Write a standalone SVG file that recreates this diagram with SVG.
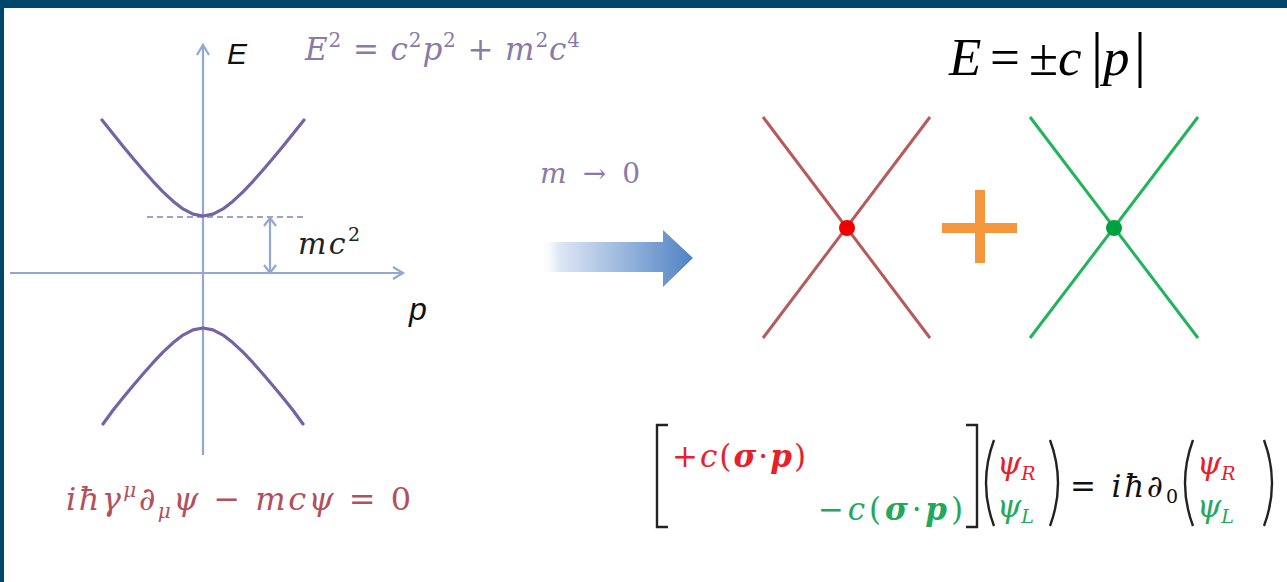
<svg xmlns="http://www.w3.org/2000/svg" width="1287" height="582" viewBox="0 0 1287 582">
<defs>
<style>
.serif{font-family:"Liberation Serif","DejaVu Serif",serif}
.math{font-family:"DejaVu Serif","Liberation Serif",serif}
.sans{font-family:"Liberation Sans","DejaVu Sans",sans-serif}
.it{font-style:italic}
.bi{font-style:italic;font-weight:bold}
.axis{stroke:#93a7d3;stroke-width:2.2;fill:none}
.curve{stroke:#7563a3;stroke-width:3.2;fill:none;stroke-linecap:round;stroke-linejoin:round}
.delim{stroke:#222;stroke-width:2.4;fill:none}
</style>
<linearGradient id="ag" gradientUnits="userSpaceOnUse" x1="540" y1="0" x2="693" y2="0">
<stop offset="0" stop-color="#ffffff" stop-opacity="0"/>
<stop offset="0.12" stop-color="#dfe8f5"/>
<stop offset="1" stop-color="#4f82c4"/>
</linearGradient>
</defs>
<rect x="0" y="0" width="1287" height="582" fill="#ffffff"/>
<rect x="0" y="0" width="1287" height="8" fill="#00466b"/>
<rect x="0" y="0" width="4" height="582" fill="#00466b"/>

<g id="connectors">
<line class="axis" x1="203" y1="455" x2="203" y2="45"/>
<polyline class="axis" points="197,55 203,45 209,55"/>
<line class="axis" x1="10" y1="273" x2="403" y2="273"/>
<polyline class="axis" points="393,267 403,273 393,279"/>
<line x1="147" y1="217" x2="303" y2="217" stroke="#9aa6c6" stroke-width="2" stroke-dasharray="6,4"/>
<line class="axis" x1="270" y1="218" x2="270" y2="273"/>
<polyline class="axis" points="264,226 270,218 276,226"/>
<polyline class="axis" points="264,265 270,273 276,265"/>
<path d="M543,242 H663 V230 L693,258 L663,287 V272 H543 Z" fill="url(#ag)"/>
</g>

<g id="left-plot">
<path class="curve" d="M102,120 L113,133.8 L123,146.2 L133,158.3 L143,170 L153,181.3 L163,191.8 L173,201.2 L183,208.9 L193,214.1 L203,216 L213,214.1 L223,208.9 L233,201.2 L243,191.8 L253,181.3 L263,170 L273,158.3 L283,146.2 L293,133.8 L304,120"/>
<path class="curve" d="M103,424 L113,410.2 L123,397.8 L133,385.7 L143,374 L153,362.7 L163,352.2 L173,342.8 L183,335.1 L193,329.9 L203,328 L213,329.9 L223,335.1 L233,342.8 L243,352.2 L253,362.7 L263,374 L273,385.7 L283,397.8 L293,410.2 L303,424"/>
<text class="sans it" x="227" y="64" font-size="30" fill="#111">E</text>
<text class="sans it" x="409" y="320" font-size="32" fill="#111">p</text>
<text class="math it" x="298" y="254" font-size="30" fill="#222" textLength="62" lengthAdjust="spacing">mc<tspan font-style="normal" font-size="19" dy="-13">2</tspan></text>
<text class="math it" x="305" y="60" font-size="31" fill="#8a7aa8" textLength="275" lengthAdjust="spacing">E<tspan font-style="normal" font-size="20" dy="-13">2</tspan><tspan font-style="normal" dy="13"> = </tspan>c<tspan font-style="normal" font-size="20" dy="-13">2</tspan><tspan dy="13">p</tspan><tspan font-style="normal" font-size="20" dy="-13">2</tspan><tspan font-style="normal" dy="13"> + </tspan>m<tspan font-style="normal" font-size="20" dy="-13">2</tspan><tspan dy="13">c</tspan><tspan font-style="normal" font-size="20" dy="-13">4</tspan></text>
<text class="math it" x="66" y="510" font-size="32" fill="#b3505c" textLength="345" lengthAdjust="spacing">iħγ<tspan font-size="20" dy="-13">μ</tspan><tspan font-style="normal" dy="13">∂</tspan><tspan font-size="20" dy="8">μ</tspan><tspan dy="-8">ψ</tspan><tspan font-style="normal"> − </tspan>mcψ<tspan font-style="normal"> = 0</tspan></text>
</g>

<g id="transition">
<text class="math it" x="540" y="183" font-size="28" fill="#8a7aa8" textLength="100" lengthAdjust="spacing">m<tspan font-style="normal"> → 0</tspan></text>
</g>

<g id="right-plot">
<text class="serif it" x="949" y="75" font-size="53" fill="#000">E</text>
<text class="serif" x="990" y="75" font-size="53" fill="#000">=</text>
<text class="serif" x="1029" y="75" font-size="53" fill="#000">±</text>
<text class="serif it" x="1058" y="75" font-size="53" fill="#000">c</text>
<line x1="1097" y1="32" x2="1097" y2="88" stroke="#000" stroke-width="3"/>
<text class="serif it" x="1103" y="75" font-size="53" fill="#000">p</text>
<line x1="1140" y1="32" x2="1140" y2="88" stroke="#000" stroke-width="3"/>
<g id="red-cone">
<line x1="763" y1="117" x2="930" y2="338" stroke="#b65a5a" stroke-width="3"/>
<line x1="930" y1="117" x2="763" y2="338" stroke="#b65a5a" stroke-width="3"/>
<circle cx="847" cy="228" r="8" fill="#f00000"/>
</g>
<g id="plus">
<rect x="942" y="223" width="75" height="10" fill="#f3963c"/>
<rect x="975" y="190" width="10" height="73" fill="#f3963c"/>
</g>
<g id="green-cone">
<line x1="1030" y1="117" x2="1198" y2="338" stroke="#22b45a" stroke-width="3"/>
<line x1="1198" y1="117" x2="1030" y2="338" stroke="#22b45a" stroke-width="3"/>
<circle cx="1114" cy="228" r="8" fill="#00a040"/>
</g>
</g>

<g id="matrix-eq">
<path class="delim" d="M668,425 H657 V527 H668"/>
<path class="delim" d="M966,425 H977 V527 H966"/>
<text class="math" x="672" y="467" font-size="31" fill="#e8202a" textLength="134" lengthAdjust="spacing">+<tspan font-style="italic">c</tspan>(<tspan class="bi">σ</tspan>·<tspan class="bi">p</tspan>)</text>
<text class="math" x="818" y="520" font-size="31" fill="#22a85a" textLength="145" lengthAdjust="spacing">−<tspan font-style="italic">c</tspan>(<tspan class="bi">σ</tspan>·<tspan class="bi">p</tspan>)</text>
<path class="delim" d="M994,440 Q978,483 994,526"/>
<path class="delim" d="M1050,440 Q1066,483 1050,526"/>
<text class="math it" x="997" y="474" font-size="31" fill="#e8202a">ψ<tspan font-size="19" dy="6">R</tspan></text>
<text class="math it" x="997" y="517" font-size="31" fill="#22a85a">ψ<tspan font-size="19" dy="6">L</tspan></text>
<text class="math" x="1070" y="497" font-size="31" fill="#111" textLength="108" lengthAdjust="spacing">= <tspan font-style="italic">iħ</tspan>∂<tspan font-size="19" dy="6">0</tspan></text>
<path class="delim" d="M1193,440 Q1177,483 1193,526"/>
<path class="delim" d="M1264,440 Q1280,483 1264,526"/>
<text class="math it" x="1197" y="474" font-size="31" fill="#e8202a">ψ<tspan font-size="19" dy="6">R</tspan></text>
<text class="math it" x="1197" y="517" font-size="31" fill="#22a85a">ψ<tspan font-size="19" dy="6">L</tspan></text>
</g>
</svg>
